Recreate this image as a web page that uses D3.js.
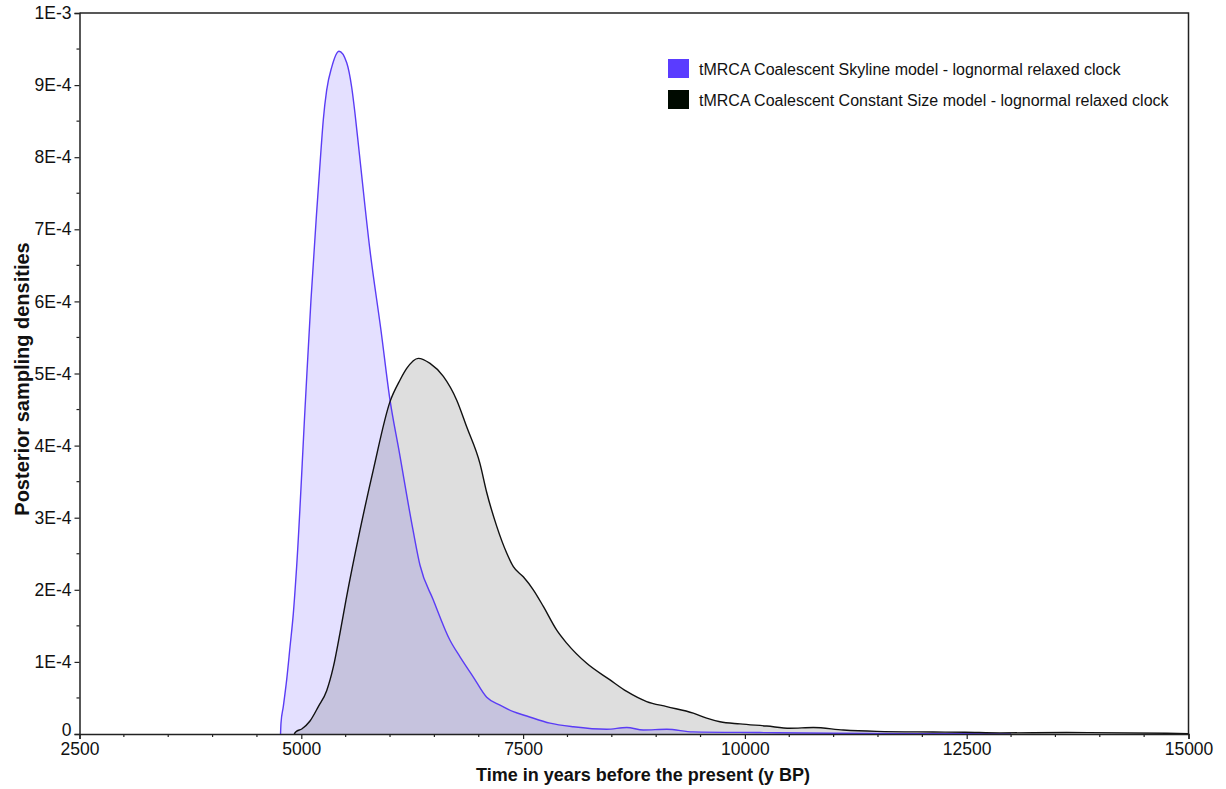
<!DOCTYPE html>
<html>
<head>
<meta charset="utf-8">
<script src="https://cdn.jsdelivr.net/npm/d3@7/dist/d3.min.js"></script>
<style>
  html, body { margin: 0; padding: 0; background: #fff; }
  svg { display: block; font-family: "Liberation Sans", Arial, Helvetica, sans-serif; }
</style>
</head>
<body>
<svg id="chart" width="1226" height="789"></svg>
<script>
// ---- Data ----
// Time in years BP
const skylineTime = [4766, 4771, 4797, 4835, 4873, 4910, 4948, 5047, 5109, 5171, 5222, 5248, 5286, 5343, 5425, 5512, 5568, 5605, 5650, 5774, 5898, 6000, 6100, 6259, 6338, 6488, 6676, 6789, 6939, 7090, 7240, 7390, 7541, 7803, 8066, 8442, 8668, 8855, 9119, 9415, 10170, 11000, 12000, 13000];
// density in units of 1E-4
const skylineDensity = [0, 0.15, 0.38, 0.75, 1.21, 1.67, 2.33, 4.63, 6.02, 7.2, 8.10, 8.52, 8.93, 9.25, 9.47, 9.31, 8.97, 8.61, 8.10, 6.71, 5.60, 4.63, 3.94, 2.83, 2.34, 1.86, 1.30, 1.07, 0.79, 0.51, 0.40, 0.31, 0.25, 0.15, 0.10, 0.065, 0.09, 0.055, 0.065, 0.03, 0.02, 0.01, 0.005, 0];

const constantTime = [4920, 4940, 5005, 5098, 5192, 5286, 5361, 5436, 5504, 5662, 5811, 6000, 6113, 6188, 6319, 6451, 6601, 6752, 6864, 7014, 7090, 7203, 7315, 7390, 7502, 7615, 7728, 7879, 7991, 8217, 8480, 8668, 8893, 9119, 9418, 9569, 9719, 9945, 10246, 10508, 10771, 11109, 11486, 12120, 12481, 12875, 13627, 14754, 15000];
const constantDensity = [0, 0.03, 0.07, 0.18, 0.38, 0.60, 0.93, 1.40, 1.86, 2.83, 3.66, 4.61, 4.91, 5.07, 5.21, 5.14, 4.96, 4.63, 4.26, 3.75, 3.35, 2.88, 2.51, 2.32, 2.18, 2.00, 1.77, 1.44, 1.26, 0.98, 0.75, 0.59, 0.45, 0.38, 0.29, 0.22, 0.17, 0.14, 0.11, 0.08, 0.09, 0.055, 0.037, 0.028, 0.024, 0.015, 0.02, 0.01, 0.005];

const xTickValues = [2500, 5000, 7500, 10000, 12500, 15000];
const xTickLabels = ["2500", "5000", "7500", "10000", "12500", "15000"];
const yTickValues = [0, 1e-4, 2e-4, 3e-4, 4e-4, 5e-4, 6e-4, 7e-4, 8e-4, 9e-4, 1e-3];
const yTickLabels = ["0", "1E-4", "2E-4", "3E-4", "4E-4", "5E-4", "6E-4", "7E-4", "8E-4", "9E-4", "1E-3"];

const seriesNames = [
  "tMRCA Coalescent Skyline model - lognormal relaxed clock",
  "tMRCA Coalescent Constant Size model - lognormal relaxed clock"
];
const seriesColors = ["#5a3cff", "#000a00"];

// ---- Layout ----
const svg = d3.select("#chart");
const mLeft = 79.5, mRight = 1188.5, mTop = 13, mBottom = 734;

const x = d3.scaleLinear().domain([2500, 15000]).range([mLeft, mRight]);
const y = d3.scaleLinear().domain([0, 1e-3]).range([mBottom, mTop]);

const skyline = skylineTime.map((t, i) => ({ t, d: skylineDensity[i] * 1e-4 }));
const constant = constantTime.map((t, i) => ({ t, d: constantDensity[i] * 1e-4 }));

const area = d3.area().x(p => x(p.t)).y0(y(0)).y1(p => y(p.d)).curve(d3.curveMonotoneX);
const line = d3.line().x(p => x(p.t)).y(p => y(p.d)).curve(d3.curveMonotoneX);

// fills
svg.append("path").datum(skyline).attr("d", area).attr("fill", "rgba(90,60,255,0.16)");
svg.append("path").datum(constant).attr("d", area).attr("fill", "rgba(0,0,0,0.13)");
// lines
svg.append("path").datum(skyline).attr("d", line).attr("fill", "none").attr("stroke", "#5a3cf5").attr("stroke-width", 1.4);
svg.append("path").datum(constant).attr("d", line).attr("fill", "none").attr("stroke", "#111").attr("stroke-width", 1.4);

// frame (top and right)
svg.append("path")
  .attr("d", `M${mLeft},${mTop}H${mRight}V${mBottom}`)
  .attr("fill", "none").attr("stroke", "#222").attr("stroke-width", 1.5);

// x axis
const xAxis = d3.axisBottom(x).tickValues(xTickValues)
  .tickFormat((d, i) => xTickLabels[i]).tickSize(5).tickPadding(4);
const gx = svg.append("g").attr("transform", `translate(0,${mBottom})`).call(xAxis);
gx.select(".domain").attr("stroke", "#222").attr("stroke-width", 1.5);
gx.selectAll(".tick line").attr("stroke", "#222").attr("stroke-width", 1.2);
gx.selectAll(".tick text").attr("font-size", 17.5).attr("fill", "#111").attr("font-family", "Liberation Sans, Arial, sans-serif");
// minor x ticks
const xMinor = d3.range(2500, 15001, 500).filter(v => !xTickValues.includes(v));
svg.append("g").selectAll("line").data(xMinor).join("line")
  .attr("x1", d => x(d)).attr("x2", d => x(d)).attr("y1", mBottom).attr("y2", mBottom + 3)
  .attr("stroke", "#222").attr("stroke-width", 1.2);

// y axis
const yAxis = d3.axisLeft(y).tickValues(yTickValues)
  .tickFormat((d, i) => yTickLabels[i]).tickSize(5).tickPadding(3);
const gy = svg.append("g").attr("transform", `translate(${mLeft},0)`).call(yAxis);
gy.select(".domain").attr("stroke", "#222").attr("stroke-width", 1.5);
gy.selectAll(".tick line").attr("stroke", "#222").attr("stroke-width", 1.2);
gy.selectAll(".tick text").attr("font-size", 17.5).attr("fill", "#111").attr("font-family", "Liberation Sans, Arial, sans-serif");
gy.selectAll(".tick text").filter((d, i) => i === 0).attr("dy", "0.1em");
const yMinor = d3.range(0, 10).map(i => (i + 0.5) * 1e-4);
svg.append("g").selectAll("line").data(yMinor).join("line")
  .attr("x1", mLeft - 3).attr("x2", mLeft).attr("y1", d => y(d)).attr("y2", d => y(d))
  .attr("stroke", "#222").attr("stroke-width", 1.2);

// axis titles
svg.append("text")
  .attr("x", 643).attr("y", 781)
  .attr("text-anchor", "middle").attr("font-size", 18).attr("font-weight", "bold").attr("fill", "#111")
  .text("Time in years before the present (y BP)");
svg.append("text")
  .attr("transform", `translate(29,379) rotate(-90)`)
  .attr("text-anchor", "middle").attr("font-size", 20).attr("font-weight", "bold").attr("fill", "#111")
  .text("Posterior sampling densities");

// legend
const legend = svg.append("g").attr("transform", "translate(668,59)");
seriesNames.forEach((name, i) => {
  const g = legend.append("g").attr("transform", `translate(0,${i * 31})`);
  g.append("rect").attr("width", 21).attr("height", 19).attr("fill", seriesColors[i]);
  g.append("text").attr("x", 31).attr("y", 15.5).attr("font-size", 16).attr("fill", "#111").text(name);
});
</script>
</body>
</html>
